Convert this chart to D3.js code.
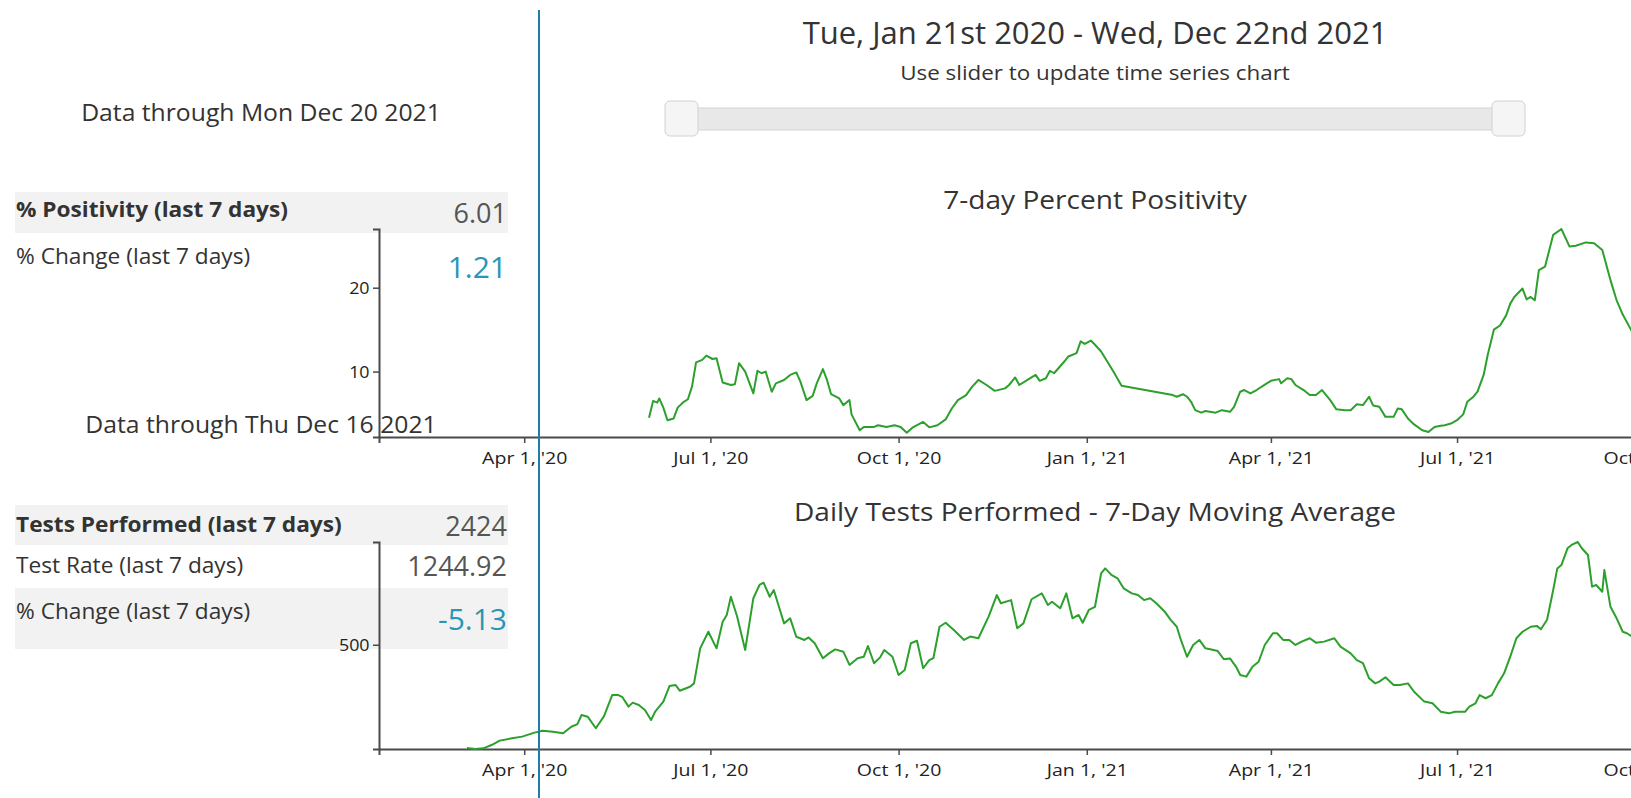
<!DOCTYPE html>
<html>
<head>
<meta charset="utf-8">
<script src="https://cdn.jsdelivr.net/npm/d3@7"></script>
<style>
  body { margin: 0; background: #fff; }
  svg { display: block; font-family: "Open Sans", sans-serif; }
</style>
</head>
<body>
<div id="chart"></div>
<script>
// text and values
var rangeTitle = "Tue, Jan 21st 2020 - Wed, Dec 22nd 2021";
var sliderNote = "Use slider to update time series chart";
var sliderRange = ["2020-01-21", "2021-12-22"];
var posThrough = "Data through Mon Dec 20 2021";
var testThrough = "Data through Thu Dec 16 2021";
var posLabels = ["% Positivity (last 7 days)", "% Change (last 7 days)"];
var posStats = ["6.01", "1.21"];
var testLabels = ["Tests Performed (last 7 days)", "Test Rate (last 7 days)", "% Change (last 7 days)"];
var testStats = ["2424", "1244.92", "-5.13"];
var posTitle = "7-day Percent Positivity";
var testTitle = "Daily Tests Performed - 7-Day Moving Average";
var posDomain = [2.2, 27.0];

// 7-day percent positivity
var posDates = ["2020-06-01","2020-06-03","2020-06-05","2020-06-06","2020-06-08","2020-06-10","2020-06-13","2020-06-15","2020-06-18","2020-06-20",
  "2020-06-22","2020-06-24","2020-06-27","2020-06-29","2020-07-02","2020-07-04","2020-07-07","2020-07-11","2020-07-13","2020-07-15",
  "2020-07-18","2020-07-22","2020-07-24","2020-07-26","2020-07-28","2020-07-31","2020-08-02","2020-08-06","2020-08-09","2020-08-12",
  "2020-08-14","2020-08-17","2020-08-20","2020-08-22","2020-08-25","2020-08-27","2020-08-29","2020-09-02","2020-09-04","2020-09-07",
  "2020-09-08","2020-09-12","2020-09-14","2020-09-19","2020-09-21","2020-09-25","2020-09-29","2020-10-02","2020-10-05","2020-10-08",
  "2020-10-13","2020-10-16","2020-10-20","2020-10-24","2020-10-27","2020-10-30","2020-11-03","2020-11-06","2020-11-09","2020-11-13",
  "2020-11-17","2020-11-22","2020-11-24","2020-11-27","2020-11-29","2020-12-03","2020-12-07","2020-12-09","2020-12-12","2020-12-14",
  "2020-12-16","2020-12-21","2020-12-23","2020-12-27","2020-12-29","2020-12-31","2021-01-03","2021-01-05","2021-01-08","2021-01-11",
  "2021-01-14","2021-01-18","2021-02-12","2021-02-14","2021-02-17","2021-02-19","2021-02-21","2021-02-23","2021-02-26","2021-02-28",
  "2021-03-05","2021-03-08","2021-03-12","2021-03-14","2021-03-17","2021-03-19","2021-03-22","2021-03-25","2021-03-30","2021-04-01",
  "2021-04-05","2021-04-06","2021-04-09","2021-04-11","2021-04-13","2021-04-17","2021-04-20","2021-04-23","2021-04-26","2021-04-30",
  "2021-05-03","2021-05-07","2021-05-10","2021-05-13","2021-05-16","2021-05-19","2021-05-21","2021-05-24","2021-05-27","2021-05-31",
  "2021-06-02","2021-06-04","2021-06-07","2021-06-10","2021-06-14","2021-06-17","2021-06-20","2021-06-23","2021-06-25","2021-06-28",
  "2021-07-01","2021-07-04","2021-07-06","2021-07-09","2021-07-11","2021-07-14","2021-07-16","2021-07-19","2021-07-22","2021-07-25",
  "2021-07-27","2021-07-29","2021-08-02","2021-08-04","2021-08-06","2021-08-08","2021-08-10","2021-08-13","2021-08-17","2021-08-21",
  "2021-08-25","2021-08-28","2021-09-02","2021-09-06","2021-09-10","2021-09-14","2021-09-17","2021-09-20","2021-09-24","2021-09-30"];
var posValues = [4.5,6.5,6.3,6.8,5.7,4.2,4.4,5.7,6.4,6.7,
  8.2,11.1,11.4,11.9,11.5,11.6,8.7,8.4,8.5,11.0,
  10.0,7.4,10.1,9.8,10.0,7.6,8.6,9.0,9.6,9.9,
  8.8,6.6,7.1,8.6,10.3,9.0,7.3,6.8,6.0,6.6,
  4.9,3.0,3.4,3.4,3.6,3.4,3.6,3.4,2.7,3.35,
  4.0,3.35,3.6,4.3,5.6,6.6,7.2,8.2,9.0,8.4,
  7.7,8.0,8.4,9.3,8.4,9.0,9.6,8.9,9.2,10.1,
  9.8,11.2,11.8,12.2,13.6,13.3,13.7,13.2,12.4,11.2,
  10.0,8.3,7.2,7.0,7.3,7.0,6.4,5.4,5.1,5.3,
  5.1,5.4,5.2,5.8,7.6,7.8,7.4,7.8,8.6,8.9,
  9.1,8.6,9.2,9.1,8.4,7.8,7.2,7.2,7.8,6.6,
  5.5,5.4,5.4,6.1,6.0,7.0,5.95,5.8,4.6,4.6,
  5.6,5.5,4.4,3.7,3.0,2.8,3.4,3.55,3.6,3.8,
  4.2,4.9,6.4,7.0,7.6,9.6,12.0,15.0,15.5,16.7,
  18.1,18.9,19.9,18.6,18.9,18.5,22.1,22.5,26.3,27.0,
  24.9,25.0,25.4,25.3,24.5,20.9,18.5,16.8,15.0,12.5];

// daily tests performed, 7-day moving average
var testDates = ["2020-03-04","2020-03-08","2020-03-12","2020-03-16","2020-03-20","2020-03-26","2020-03-31","2020-04-06","2020-04-10","2020-04-15",
  "2020-04-20","2020-04-24","2020-04-27","2020-04-29","2020-05-02","2020-05-06","2020-05-10","2020-05-14","2020-05-17","2020-05-19",
  "2020-05-22","2020-05-24","2020-05-27","2020-05-30","2020-06-02","2020-06-04","2020-06-08","2020-06-11","2020-06-14","2020-06-16",
  "2020-06-21","2020-06-23","2020-06-26","2020-06-30","2020-07-04","2020-07-07","2020-07-09","2020-07-11","2020-07-14","2020-07-18",
  "2020-07-22","2020-07-25","2020-07-27","2020-07-30","2020-08-01","2020-08-02","2020-08-04","2020-08-06","2020-08-09","2020-08-12",
  "2020-08-16","2020-08-18","2020-08-21","2020-08-25","2020-08-28","2020-08-31","2020-09-04","2020-09-07","2020-09-11","2020-09-14",
  "2020-09-16","2020-09-19","2020-09-22","2020-09-24","2020-09-28","2020-10-01","2020-10-04","2020-10-07","2020-10-10","2020-10-13",
  "2020-10-16","2020-10-18","2020-10-21","2020-10-24","2020-10-28","2020-11-02","2020-11-05","2020-11-09","2020-11-14","2020-11-18",
  "2020-11-20","2020-11-25","2020-11-28","2020-12-01","2020-12-05","2020-12-10","2020-12-13","2020-12-15","2020-12-19","2020-12-22",
  "2020-12-25","2020-12-28","2020-12-30","2021-01-02","2021-01-05","2021-01-08","2021-01-10","2021-01-13","2021-01-16","2021-01-19",
  "2021-01-23","2021-01-26","2021-01-29","2021-02-01","2021-02-04","2021-02-08","2021-02-11","2021-02-14","2021-02-16","2021-02-19",
  "2021-02-22","2021-02-25","2021-02-28","2021-03-04","2021-03-06","2021-03-09","2021-03-12","2021-03-15","2021-03-17","2021-03-20",
  "2021-03-23","2021-03-26","2021-03-29","2021-04-02","2021-04-04","2021-04-07","2021-04-10","2021-04-13","2021-04-16","2021-04-20",
  "2021-04-23","2021-04-27","2021-05-02","2021-05-05","2021-05-10","2021-05-13","2021-05-16","2021-05-19","2021-05-22","2021-05-24",
  "2021-05-27","2021-05-31","2021-06-03","2021-06-07","2021-06-10","2021-06-15","2021-06-19","2021-06-23","2021-06-27","2021-06-30",
  "2021-07-05","2021-07-07","2021-07-10","2021-07-12","2021-07-15","2021-07-18","2021-07-21","2021-07-24","2021-07-27","2021-07-30",
  "2021-08-02","2021-08-06","2021-08-09","2021-08-11","2021-08-14","2021-08-17","2021-08-19","2021-08-21","2021-08-24","2021-08-26",
  "2021-08-29","2021-08-31","2021-09-03","2021-09-05","2021-09-07","2021-09-10","2021-09-11","2021-09-14","2021-09-17","2021-09-20",
  "2021-09-22","2021-09-26","2021-10-01"];
var testValues = [8,3,6,22,43,54,62,81,90,85,
  78,109,122,165,157,102,160,260,260,250,
  205,224,213,189,141,181,229,303,308,281,
  300,316,483,562,483,610,642,729,637,475,
  722,785,796,729,761,729,666,602,626,538,
  523,535,507,436,459,478,467,404,436,443,
  494,412,440,475,443,356,380,507,519,388,
  427,436,586,605,570,523,539,531,634,737,
  698,713,579,602,717,745,690,705,674,745,
  626,642,605,666,681,840,864,833,817,769,
  745,737,713,722,698,659,619,586,523,443,
  499,523,483,475,470,431,435,395,356,348,
  395,419,499,555,555,523,523,499,515,531,
  510,515,531,491,459,427,412,340,316,324,
  345,308,308,316,276,229,221,181,173,181,
  181,205,221,260,245,260,316,364,443,531,
  562,586,590,574,619,761,864,880,960,976,
  990,960,928,777,785,753,856,681,626,562,
  555,530,510];

var parseDate = d3.timeParse("%Y-%m-%d");
var posData = posDates.map(function(d, i) { return { date: parseDate(d), value: posValues[i] }; });
var testData = testDates.map(function(d, i) { return { date: parseDate(d), value: testValues[i] }; });

var width = 1631, height = 798;
var svg = d3.select('#chart').append('svg')
  .attr('width', width)
  .attr('height', height);

// the source screenshot is a little wider than tall, so text gets a slight horizontal stretch
function putText(x, y, size, sx, txt) {
  return svg.append('text')
    .attr('transform', 'translate(' + x + ',' + y + ') scale(' + sx + ',1)')
    .style('font-size', size + 'px')
    .style('fill', '#333')
    .text(txt);
}

// shared time scale, runs past the right edge of the page like the original
var xScale = d3.scaleTime()
  .domain(sliderRange.map(parseDate))
  .range([379, 1813]);

var yPos = d3.scaleLinear().domain(posDomain).range([437, 229]);
var yTest = d3.scaleLinear().domain(d3.extent(testValues)).range([749, 542]);

var tickFormat = d3.timeFormat("%b %-d, '%y");

// header: date range + slider
putText(1095, 44, 31, 1, rangeTitle).attr('text-anchor', 'middle');
putText(1095, 80, 20, 1.12, sliderNote).attr('text-anchor', 'middle');

var sliderScale = d3.scaleTime()
  .domain(sliderRange.map(parseDate))
  .range([681, 1508]);

svg.append('rect')
  .attr('x', sliderScale.range()[0]).attr('y', 108)
  .attr('width', sliderScale.range()[1] - sliderScale.range()[0]).attr('height', 22)
  .attr('fill', '#e8e8e8').attr('stroke', '#d4d4d4');

svg.selectAll('.handle')
  .data(sliderRange.map(parseDate))
  .enter().append('rect')
  .attr('class', 'handle')
  .attr('x', function(d) { return sliderScale(d) - 16; })
  .attr('y', 101)
  .attr('width', 33).attr('height', 35)
  .attr('rx', 5)
  .attr('fill', '#f5f5f5').attr('stroke', '#d2d2d2');

// "data through" note above the positivity stats
putText(261, 121, 24, 1.03, posThrough).attr('text-anchor', 'middle');

// stat tables on the left
function drawTable(labels, stats, tops, heights, shaded, labelDy, statDy) {
  var g = svg.append('g');
  g.selectAll('rect')
    .data(labels)
    .enter().append('rect')
    .attr('x', 15)
    .attr('y', function(d, i) { return tops[i]; })
    .attr('width', 493)
    .attr('height', function(d, i) { return heights[i]; })
    .attr('fill', function(d, i) { return shaded[i] ? '#f2f2f2' : 'none'; });
  g.selectAll('.label')
    .data(labels)
    .enter().append('text')
    .attr('class', 'label')
    .attr('transform', function(d, i) { return 'translate(16,' + (tops[i] + labelDy[i]) + ') scale(1.08,1)'; })
    .style('font-size', '21px')
    .style('font-weight', function(d, i) { return i === 0 ? 'bold' : 'normal'; })
    .style('fill', '#333')
    .text(function(d) { return d; });
  g.selectAll('.stat')
    .data(stats)
    .enter().append('text')
    .attr('class', 'stat')
    .attr('x', 507)
    .attr('y', function(d, i) { return tops[i] + statDy[i]; })
    .attr('text-anchor', 'end')
    .style('font-size', function(d, i) { return i === stats.length - 1 ? '30px' : '27px'; })
    .style('fill', function(d, i) { return i === stats.length - 1 ? '#2a96b4' : '#555'; })
    .text(function(d) { return d; });
  return g;
}

drawTable(posLabels, posStats, [192, 233], [41, 45], [true, false], [25, 31], [31, 45]);
drawTable(testLabels, testStats, [505, 545, 588], [40, 43, 61], [true, false, true], [27, 28, 31], [31, 31, 42]);

// one time series panel
function drawPanel(data, yScale, title, titleY) {
  var g = svg.append('g');

  g.append('text')
    .attr('transform', 'translate(1095,' + titleY + ') scale(1.08,1)')
    .attr('text-anchor', 'middle')
    .style('font-size', '26px').style('fill', '#333')
    .text(title);

  var xAxis = g.append('g')
    .attr('transform', 'translate(0,' + yScale.range()[0] + ')')
    .call(d3.axisBottom(xScale).ticks(d3.timeMonth.every(3)).tickFormat(tickFormat));

  var yAxis = g.append('g')
    .attr('transform', 'translate(' + xScale.range()[0] + ',0)')
    .call(d3.axisLeft(yScale).ticks(2));

  [xAxis, yAxis].forEach(function(ax) {
    ax.select('.domain').attr('stroke', '#4a4a4a').attr('stroke-width', 2);
    ax.selectAll('.tick line').attr('stroke', '#4a4a4a').attr('stroke-width', 1.5);
    ax.selectAll('.tick text')
      .style('font-family', '"Open Sans", sans-serif')
      .style('font-size', '17px').style('fill', '#222');
  });
  xAxis.selectAll('.tick text').attr('dy', '1.05em').attr('transform', 'scale(1.15,1)');
  yAxis.selectAll('.tick text').attr('transform', 'scale(1.05,1)');

  var line = d3.line()
    .x(function(d) { return xScale(d.date); })
    .y(function(d) { return yScale(d.value); });

  g.append('path')
    .datum(data)
    .attr('fill', 'none')
    .attr('stroke', '#2ca02c')
    .attr('stroke-width', 2)
    .attr('stroke-linejoin', 'round')
    .attr('d', line);
  return g;
}

drawPanel(posData, yPos, posTitle, 209);
drawPanel(testData, yTest, testTitle, 521);

// note drawn over the first panel's axis, as in the original
putText(261, 433, 24, 1.03, testThrough).attr('text-anchor', 'middle');

// divider between the stats column and the charts
svg.append('line')
  .attr('x1', 539).attr('x2', 539)
  .attr('y1', 10).attr('y2', height)
  .attr('stroke', '#1f7ea6').attr('stroke-width', 2);
</script>
</body>
</html>
